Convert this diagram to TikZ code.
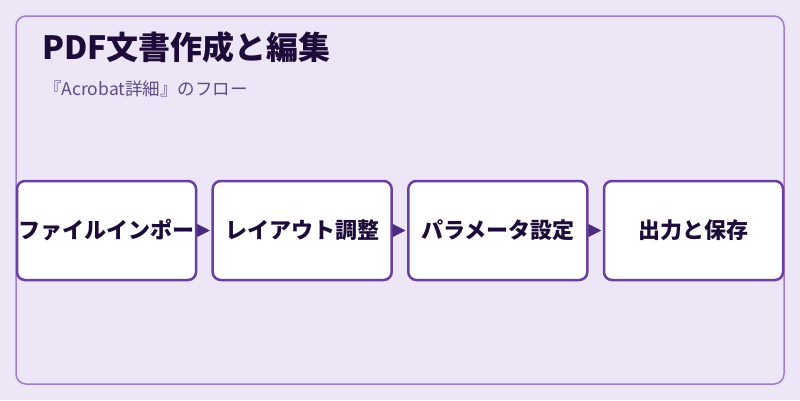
\documentclass[tikz,border=0pt]{standalone}
\usepackage{fontspec}
\setmainfont{Noto Sans CJK JP}
\usetikzlibrary{arrows.meta}
\definecolor{bgfill}{HTML}{EDE6F6}
\definecolor{frameline}{HTML}{A07FD0}
\definecolor{boxline}{HTML}{6B3FA0}
\definecolor{flowarrow}{HTML}{4B2A80}
\definecolor{titleink}{HTML}{1E0B3A}
\definecolor{subink}{HTML}{5E4B85}
\tikzset{
  stepbox/.style={draw=boxline, line width=2.5pt, fill=white, rounded corners=8pt,
    minimum width=179pt, minimum height=99pt, inner sep=0pt,
    font=\fontsize{22}{26}\selectfont\bfseries, text=titleink},
  flow/.style={draw=flowarrow, line width=1pt, -{Triangle[length=13pt,width=13pt]}, shorten <=1pt, shorten >=1.5pt}
}
\begin{document}
\begin{tikzpicture}[x=1pt,y=-1pt]
      \useasboundingbox[fill=bgfill] (0,0) rectangle (800,400);
      \draw[frameline, line width=1.5pt, rounded corners=10pt] (16,16) rectangle (784,384);
      \node[anchor=base west, inner sep=0pt, text=titleink, font=\fontsize{32}{36}\selectfont\bfseries]
        (title) at (42,59) {PDF文書作成と編集};
      \node[anchor=base west, inner sep=0pt, text=subink, font=\fontsize{17.5}{21}\selectfont]
        (subtitle) at (44,95) {『Acrobat詳細』のフロー};
      \draw
        (106.5,230.5) node[stepbox] (import){ファイルインポー}
        (302.2,230.5) node[stepbox] (layout){レイアウト調整}
        (497.8,230.5) node[stepbox] (param){パラメータ設定}
        (693.5,230.5) node[stepbox] (save){出力と保存};
      \begin{scope}[flow]
        \draw (import) to (layout);
        \draw (layout) to (param);
        \draw (param) to (save);
      \end{scope}
    \end{tikzpicture}
\end{document}
